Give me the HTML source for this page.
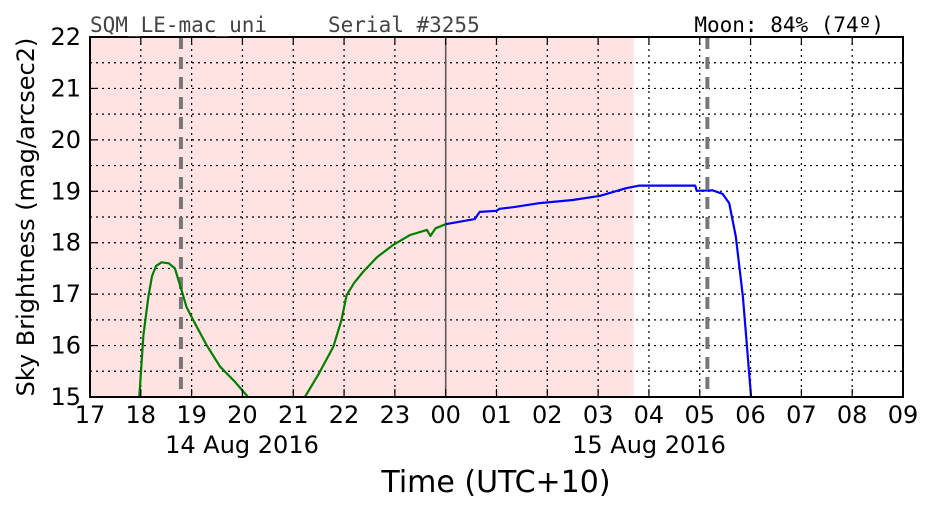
<!DOCTYPE html>
<html><head><meta charset="utf-8"><style>
body{margin:0;background:#fff;position:relative;width:934px;height:512px;overflow:hidden;}
svg{display:block;font-family:"DejaVu Sans","Liberation Sans",sans-serif;}
</style></head><body>
<svg id="chart" width="934" height="512" xmlns="http://www.w3.org/2000/svg">
<g id="bg"></g><g id="grid"></g><g id="series"></g><g id="axes"></g>
</svg>
<script>
const xTickLabels=["17","18","19","20","21","22","23","00","01","02","03","04","05","06","07","08","09"];
const yTicks=[15,16,17,18,19,20,21,22];
const greenA_x=[17.97,18.05,18.15,18.22,18.3,18.41,18.55,18.67,18.8,18.9,19.03,19.3,19.56,19.85,20.11];
const greenA_y=[15.0,16.2,16.95,17.35,17.55,17.62,17.6,17.5,17.08,16.75,16.5,16.0,15.59,15.3,15.0];
const greenB_x=[21.23,21.5,21.79,21.95,22.05,22.2,22.38,22.65,22.97,23.3,23.63,23.7,23.8,24.0];
const greenB_y=[15.0,15.45,15.98,16.5,16.98,17.22,17.44,17.72,17.96,18.15,18.25,18.13,18.28,18.36];
const blue_x=[24.0,24.57,24.67,25.0,25.06,25.33,25.85,26.5,27.03,27.55,27.81,28.91,28.94,29.25,29.45,29.58,29.71,29.85,30.01];
const blue_y=[18.36,18.46,18.6,18.62,18.66,18.69,18.77,18.83,18.91,19.06,19.11,19.11,19.01,19.02,18.95,18.77,18.12,16.95,15.0];
const nightStart=17, nightEnd=27.7, moonLines=[18.79,29.15], midnight=24;
const X0=90,X1=903,Y0=37,Y1=397,xmin=17,xmax=33,ymin=15,ymax=22;
const sx=v=>X0+(v-xmin)/(xmax-xmin)*(X1-X0);
const sy=v=>Y1-(v-ymin)/(ymax-ymin)*(Y1-Y0);
const NS="http://www.w3.org/2000/svg";
function mk(parent,tag,attrs,text){const e=document.createElementNS(NS,tag);for(const k in attrs)e.setAttribute(k,attrs[k]);if(text!==undefined)e.textContent=text;document.getElementById(parent).appendChild(e);return e;}
let e=mk('bg','rect',{x:sx(nightStart),y:Y0,width:sx(nightEnd)-sx(nightStart),height:Y1-Y0,fill:'#ffe2e2'});


for(let h=xmin+1;h<xmax;h++){e=mk('grid','line',{x1:sx(h),x2:sx(h),y1:Y0,y2:Y1,stroke:'#000','stroke-width':1.2,'stroke-dasharray':'2,4'});

}
for(let v=ymin+0.5;v<ymax;v+=0.5){e=mk('grid','line',{x1:X0,x2:X1,y1:sy(v),y2:sy(v),stroke:'#000','stroke-width':1.2,'stroke-dasharray':'2,4'});

}
e=mk('grid','line',{x1:sx(midnight),x2:sx(midnight),y1:Y0,y2:Y1,stroke:'#555','stroke-width':1.5});


moonLines.forEach(m=>{e=mk('grid','line',{x1:sx(m),x2:sx(m),y1:Y0,y2:Y1,stroke:'#777','stroke-width':4,'stroke-dasharray':'12,8'});

});
function path(xs,ys,col,name){const d=xs.map((x,i)=>(i?'L':'M')+sx(x).toFixed(1)+','+sy(ys[i]).toFixed(1)).join('');
const p=mk('series','path',{d:d,fill:'none',stroke:col,'stroke-width':2.2,'stroke-linejoin':'round'});

}
path(greenA_x,greenA_y,'#008000','twilight-series-evening');
path(greenB_x,greenB_y,'#008000','twilight-series-night');
path(blue_x,blue_y,'#0000ff','dark-series');
e=mk('axes','rect',{x:X0,y:Y0,width:X1-X0,height:Y1-Y0,fill:'none',stroke:'#000','stroke-width':2});


xTickLabels.forEach((t,i)=>{const x=sx(xmin+i);
mk('axes','line',{x1:x,x2:x,y1:Y1,y2:Y1-8,stroke:'#000','stroke-width':1.2});
mk('axes','line',{x1:x,x2:x,y1:Y0,y2:Y0+8,stroke:'#000','stroke-width':1.2});
e=mk('axes','text',{x:x,y:423,'font-size':24,'text-anchor':'middle'},t);

});
yTicks.forEach(v=>{const y=sy(v);
mk('axes','line',{x1:X0,x2:X0+8,y1:y,y2:y,stroke:'#000','stroke-width':1.2});
mk('axes','line',{x1:X1,x2:X1-8,y1:y,y2:y,stroke:'#000','stroke-width':1.2});
e=mk('axes','text',{x:81,y:y+8,'font-size':24,'text-anchor':'end'},String(v));

});
</script>
<svg width="934" height="512" style="position:absolute;left:0;top:0" xmlns="http://www.w3.org/2000/svg">
<text x="242" y="453" font-size="24" text-anchor="middle" font-family="DejaVu Sans,Liberation Sans,sans-serif">14 Aug 2016</text>
<text x="649" y="453" font-size="24" text-anchor="middle" font-family="DejaVu Sans,Liberation Sans,sans-serif">15 Aug 2016</text>
<text x="496" y="492" font-size="30" text-anchor="middle" font-family="DejaVu Sans,Liberation Sans,sans-serif">Time (UTC+10)</text>
<text transform="translate(34,217) rotate(-90)" font-size="24" text-anchor="middle" font-family="DejaVu Sans,Liberation Sans,sans-serif">Sky Brightness (mag/arcsec2)</text>
<text x="90" y="32" font-size="21" fill="#444" font-family="DejaVu Sans Mono,Liberation Mono,monospace">SQM_LE-mac_uni</text>
<text x="328" y="32" font-size="21" fill="#444" font-family="DejaVu Sans Mono,Liberation Mono,monospace">Serial #3255</text>
<text x="884" y="32" font-size="21" fill="#000" text-anchor="end" font-family="DejaVu Sans Mono,Liberation Mono,monospace">Moon: 84% (74º)</text>
</svg>
</body></html>
